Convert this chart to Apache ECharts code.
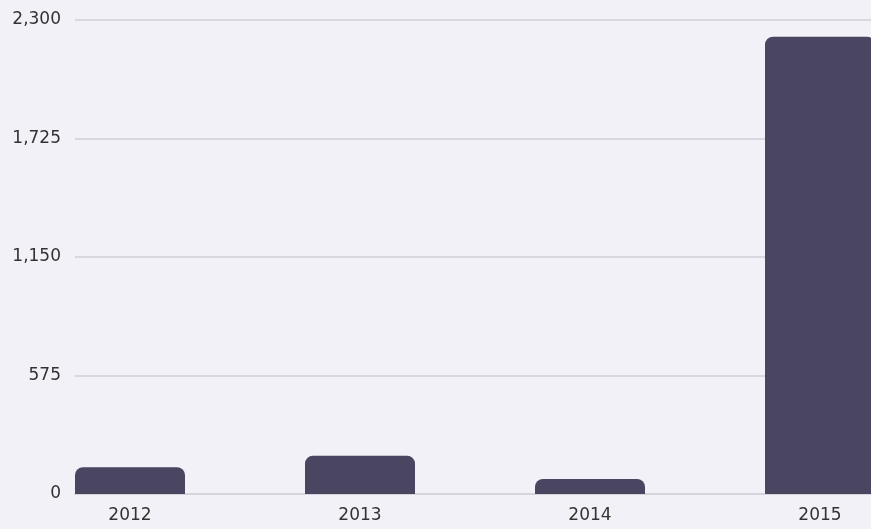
<!DOCTYPE html>
<html>
<head>
<meta charset="utf-8">
<script src="https://cdn.jsdelivr.net/npm/echarts@6/dist/echarts.min.js"></script>
<style>
html,body{margin:0;padding:0;background:#f2f1f7;}
#chart{width:871px;height:529px;}
</style>
</head>
<body>
<div id="chart"></div>
<script>
var categories = ['2012', '2013', '2014', '2015'];
var values = [130, 186, 73, 2219];
var yTicks = [0, 575, 1150, 1725, 2300];

var chart = echarts.init(document.getElementById('chart'), null, {renderer: 'canvas'});
var catNums = categories.map(Number);
var data = catNums.map(function (c, i) { return [c, values[i]]; });
var xMin = catNums[0] - 55 / 230;
var xMax = xMin + 796 / 230;

chart.setOption({
  backgroundColor: '#f2f1f7',
  animation: false,
  grid: {left: 75, right: 0, top: 20, bottom: 35, containLabel: false},
  xAxis: {
    type: 'value',
    min: xMin,
    max: xMax,
    splitLine: {show: false},
    axisTick: {show: false},
    axisLine: {show: true, lineStyle: {color: '#d6d5de', width: 2}},
    axisLabel: {
      customValues: catNums,
      formatter: function (v) { return String(v); },
      color: '#333333',
      fontFamily: 'DejaVu Sans',
      fontSize: 17,
      margin: 13
    }
  },
  yAxis: {
    type: 'value',
    min: yTicks[0],
    max: yTicks[yTicks.length - 1],
    interval: yTicks[1] - yTicks[0],
    axisLine: {show: false},
    axisTick: {show: false},
    splitLine: {lineStyle: {color: '#d9d8e0', width: 2}},
    axisLabel: {
      formatter: function (v) { return v.toLocaleString('en-US'); },
      color: '#333333',
      fontFamily: 'DejaVu Sans',
      fontSize: 17,
      margin: 14
    }
  },
  series: [{
    type: 'bar',
    data: data,
    barWidth: 110,
    itemStyle: {color: '#4a4560', borderRadius: [8, 8, 0, 0]}
  }]
});
</script>
</body>
</html>
